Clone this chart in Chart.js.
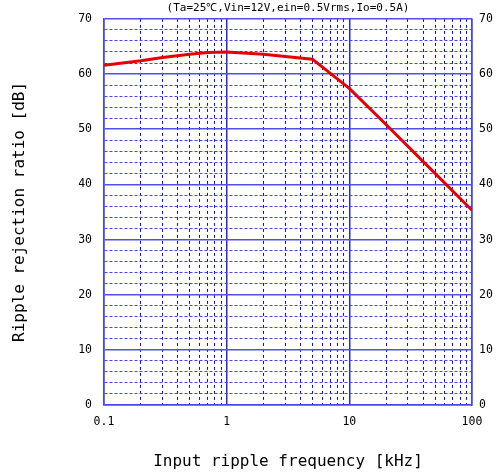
<!DOCTYPE html>
<html>
<head>
<meta charset="utf-8">
<script src="https://cdn.jsdelivr.net/npm/chart.js@4/dist/chart.umd.min.js"></script>
<style>
  html, body { margin: 0; padding: 0; background: #fff; }
  #wrap { width: 496px; height: 472px; }
</style>
</head>
<body>
<div id="wrap"><canvas id="c" width="496" height="472"></canvas></div>
<script>
// Data
const freqKHz = [0.1, 0.2, 0.3, 0.5, 0.7, 1, 2, 3, 5, 10, 20, 50, 100];
const rejectionDb = [61.6, 62.4, 63.0, 63.6, 63.9, 64.0, 63.6, 63.2, 62.7, 57.4, 50.8, 42.0, 35.3];

// Tick positions / labels
const xTickVals = [0.1, 0.2, 0.3, 0.4, 0.5, 0.6, 0.7, 0.8, 0.9,
                   1, 2, 3, 4, 5, 6, 7, 8, 9,
                   10, 20, 30, 40, 50, 60, 70, 80, 90, 100];
const xDecades = [0.1, 1, 10, 100];
const xDecadeLabels = ['0.1', '1', '10', '100'];
const yMin = 0, yMax = 70, yStep = 2, yMajorStep = 10;

const titleText = '(Ta=25\u2103,Vin=12V,ein=0.5Vrms,Io=0.5A)';
const xTitle = 'Input ripple frequency [kHz]';
const yTitle = 'Ripple rejection ratio [dB]';

const mono = "'DejaVu Sans Mono', monospace";
const isDecade = v => xDecades.some(d => Math.abs(d - v) < 1e-9);
const isMajorY = v => Math.abs(v % yMajorStep) < 1e-9;

const tickFont = { family: mono, size: 11.5 };

new Chart(document.getElementById('c'), {
  type: 'line',
  data: {
    datasets: [{
      data: freqKHz.map((f, i) => ({ x: f, y: rejectionDb[i] })),
      borderColor: 'rgb(230,0,0)',
      borderWidth: 3,
      pointRadius: 0,
      tension: 0,
      fill: false
    }]
  },
  options: {
    responsive: false,
    animation: false,
    layout: { padding: 0 },
    plugins: {
      legend: { display: false },
      tooltip: { enabled: false },
      title: {
        display: true,
        text: titleText,
        fullSize: false,
        color: '#000',
        font: { family: mono, size: 11, weight: 'normal' },
        padding: { top: 1, bottom: 3.8 }
      }
    },
    scales: {
      x: {
        type: 'logarithmic',
        min: 0.1,
        max: 100,
        afterBuildTicks: s => { s.ticks = xTickVals.map(v => ({ value: v })); },
        afterFit: s => { s.height = 67; },
        ticks: {
          autoSkip: false,
          maxRotation: 0,
          padding: 10,
          color: '#000',
          font: tickFont,
          callback: v => {
            const i = xDecades.findIndex(d => Math.abs(d - v) < 1e-9);
            return i >= 0 ? xDecadeLabels[i] : '';
          }
        },
        grid: {
          drawTicks: false,
          lineWidth: ctx => (ctx.tick && isDecade(ctx.tick.value)) ? 1.5 : 1,
          color: ctx => (ctx.tick && isDecade(ctx.tick.value)) ? 'rgb(40,40,220)' : 'rgb(10,10,235)'
        },
        border: {
          color: 'rgb(70,70,240)',
          width: 1.5,
          dash: ctx => (ctx.tick && !isDecade(ctx.tick.value)) ? [3, 3] : []
        },
        title: {
          display: true,
          text: xTitle,
          color: '#000',
          font: { family: mono, size: 16 },
          padding: { top: 0, bottom: 1 }
        }
      },
      y: {
        position: 'left',
        min: yMin,
        max: yMax,
        afterFit: s => { s.width = 104; },
        ticks: {
          stepSize: yStep,
          autoSkip: false,
          padding: 12,
          color: '#000',
          font: tickFont,
          callback: v => (isMajorY(v) ? String(v) : '')
        },
        grid: {
          drawTicks: false,
          lineWidth: ctx => (ctx.tick && isMajorY(ctx.tick.value)) ? 1.5 : 1,
          color: ctx => (ctx.tick && isMajorY(ctx.tick.value)) ? 'rgb(80,80,230)' : 'rgb(70,70,240)'
        },
        border: {
          color: 'rgb(70,70,240)',
          width: 1.5,
          dash: ctx => (ctx.tick && !isMajorY(ctx.tick.value)) ? [3, 2] : []
        },
        title: {
          display: true,
          text: yTitle,
          color: '#000',
          font: { family: mono, size: 16 },
          padding: { top: 10, bottom: 0 }
        }
      },
      y2: {
        position: 'right',
        min: yMin,
        max: yMax,
        afterFit: s => { s.width = 24; },
        ticks: {
          stepSize: yStep,
          autoSkip: false,
          padding: 7,
          color: '#000',
          font: tickFont,
          callback: v => (isMajorY(v) ? String(v) : '')
        },
        grid: { display: false, drawTicks: false },
        border: { color: 'rgb(70,70,240)', width: 1.5 }
      }
    }
  }
});
</script>
</body>
</html>
